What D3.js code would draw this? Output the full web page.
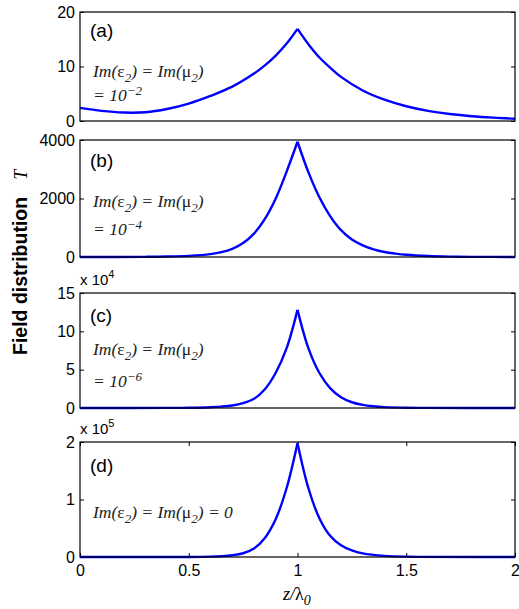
<!DOCTYPE html>
<html>
<head>
<meta charset="utf-8">
<script src="https://cdn.jsdelivr.net/npm/d3@7"></script>
<style>
  body { margin: 0; background: #fff; }
  svg { display: block; }
</style>
</head>
<body>
<div id="chart"></div>
<script>
// values (z / lambda_0 vs field T)
const zA = [0, 0.1, 0.2, 0.3, 0.4, 0.5, 0.6, 0.7, 0.8, 0.85, 0.9, 0.95, 1.0, 1.05, 1.1, 1.15, 1.2, 1.3, 1.4, 1.5, 1.6, 1.7, 1.8, 1.9, 2.0];
const valA = [2.4, 1.85, 1.55, 1.6, 2.2, 3.2, 4.6, 6.3, 8.7, 10.2, 12.0, 14.2, 16.9, 14.1, 11.7, 9.8, 8.1, 5.6, 3.9, 2.7, 1.85, 1.28, 0.88, 0.61, 0.42];

const zB = [0, 0.3, 0.4, 0.5, 0.6, 0.65, 0.7, 0.75, 0.8, 0.85, 0.9, 0.95, 1.0, 1.05, 1.1, 1.15, 1.2, 1.25, 1.3, 1.35, 1.4, 1.45, 1.5, 1.6, 1.7, 1.8, 2.0];
const valB = [0.5, 6, 15, 40, 100, 165, 280, 480, 800, 1300, 2000, 2920, 3940, 2900, 2050, 1400, 920, 600, 400, 260, 170, 115, 75, 33, 14, 6, 1];

const zC = [0, 0.4, 0.5, 0.6, 0.65, 0.7, 0.75, 0.8, 0.85, 0.9, 0.95, 1.0, 1.05, 1.1, 1.15, 1.2, 1.25, 1.3, 1.35, 1.4, 1.5, 1.6, 2.0];
const valC = [0, 0.01, 0.03, 0.1, 0.18, 0.33, 0.64, 1.2, 2.45, 4.6, 7.8, 12.8, 7.8, 4.6, 2.6, 1.4, 0.75, 0.4, 0.22, 0.12, 0.035, 0.01, 0];

const zD = [0, 0.5, 0.6, 0.65, 0.7, 0.75, 0.8, 0.85, 0.9, 0.95, 1.0, 1.05, 1.1, 1.15, 1.2, 1.25, 1.3, 1.4, 1.5, 2.0];
const valD = [0, 0.001, 0.006, 0.014, 0.03, 0.065, 0.147, 0.33, 0.66, 1.2, 1.98, 1.2, 0.68, 0.37, 0.205, 0.115, 0.063, 0.02, 0.006, 0];

const xTicks = [0, 0.5, 1, 1.5, 2];
const yTicksA = [0, 10, 20];
const yTicksB = [0, 2000, 4000];
const yTicksC = [0, 5, 10, 15];
const yTicksD = [0, 1, 2];

const panelLabels = ["(a)", "(b)", "(c)", "(d)"];
const lossExp = ["\u22122", "\u22124", "\u22126", null];
const scaleExp = [null, null, "4", "5"];
const PEAK_Z = 1.0;

const W = 519, H = 609;
const LEFT = 80, RIGHT = 515;
const LINE_COLOR = "#0000ff";
const SANS = "'Liberation Sans', Arial, sans-serif";
const SERIF = "'Liberation Serif', 'Times New Roman', serif";

const panels = [
  {top: 12, bottom: 121, z: zA, v: valA, ymax: 20, ticks: yTicksA, lab: 25, im: 65, eq: 24},
  {top: 140, bottom: 257, z: zB, v: valB, ymax: 4000, ticks: yTicksB, lab: 27, im: 67, eq: 28},
  {top: 293, bottom: 408, z: zC, v: valC, ymax: 15, ticks: yTicksC, lab: 29, im: 62, eq: 32},
  {top: 442, bottom: 557, z: zD, v: valD, ymax: 2, ticks: yTicksD, lab: 30, im: 76, eq: 0}
];

const svg = d3.select("#chart").append("svg")
  .attr("width", W).attr("height", H);

const x = d3.scaleLinear().domain([0, 2]).range([LEFT, RIGHT]);

function styleLabels(sel) {
  sel.selectAll("text")
    .style("font-family", SANS)
    .style("font-size", "16px")
    .attr("fill", "#000");
}

panels.forEach(function(p, i) {
  let y = d3.scaleLinear().domain([0, p.ymax]).range([p.bottom, p.top]);
  let g = svg.append("g");

  // left axis with labels, right side ticks only
  g.append("g")
    .attr("transform", `translate(${LEFT},0)`)
    .call(d3.axisLeft(y).tickValues(p.ticks).tickSize(-4).tickPadding(5).tickFormat(d3.format("d")))
    .call(a => a.select(".domain").remove())
    .call(styleLabels);
  g.append("g")
    .attr("transform", `translate(${RIGHT},0)`)
    .call(d3.axisRight(y).tickValues(p.ticks).tickSize(-4).tickFormat(""))
    .call(a => a.select(".domain").remove());

  if (i == 3) {
    g.append("g")
      .attr("transform", `translate(0,${p.bottom})`)
      .call(d3.axisBottom(x).tickValues(xTicks).tickSize(-4).tickPadding(8).tickFormat(d3.format("")))
      .call(a => a.select(".domain").remove())
      .call(styleLabels);
    g.append("g")
      .attr("transform", `translate(0,${p.top})`)
      .call(d3.axisTop(x).tickValues(xTicks).tickSize(-4).tickFormat(""))
      .call(a => a.select(".domain").remove());
  }

  // curve, drawn as two pieces so the cusp at z = 1 stays sharp
  let pts = d3.zip(p.z, p.v);
  let line = d3.line()
    .x(function(d) { return x(d[0]); })
    .y(function(d) { return y(d[1]); })
    .curve(d3.curveCatmullRom.alpha(0.5));
  let halves = [pts.filter(d => d[0] <= PEAK_Z), pts.filter(d => d[0] >= PEAK_Z)];
  g.selectAll("path.curve").data(halves).enter()
    .append("path")
    .attr("class", "curve")
    .attr("d", line)
    .attr("fill", "none")
    .attr("stroke", LINE_COLOR)
    .attr("stroke-width", 2.4);

  // box
  g.append("rect")
    .attr("x", LEFT).attr("y", p.top)
    .attr("width", RIGHT - LEFT).attr("height", p.bottom - p.top)
    .attr("fill", "none").attr("stroke", "#000").attr("stroke-width", 1.2);

  // panel label
  g.append("text")
    .attr("x", LEFT + 10).attr("y", p.top + p.lab)
    .style("font-family", SANS)
    .style("font-size", "19px")
    .text(panelLabels[i]);

  // Im(eps2) = Im(mu2) annotation
  let imY = p.top + p.im;
  let t = g.append("text")
    .attr("x", LEFT + 13).attr("y", imY)
    .style("font-family", SERIF).style("font-style", "italic")
    .style("font-size", "17.5px").attr("fill", "#222");
  t.append("tspan").text("Im(");
  t.append("tspan").style("font-style", "normal").text("\u03b5");
  t.append("tspan").attr("dy", 5).style("font-size", "13px").text("2");
  t.append("tspan").attr("dy", -5).text(") = Im(");
  t.append("tspan").style("font-style", "normal").text("\u03bc");
  t.append("tspan").attr("dy", 5).style("font-size", "13px").text("2");
  t.append("tspan").attr("dy", -5).text(i == 3 ? ") = 0" : ")");

  if (lossExp[i]) {
    let t2 = g.append("text")
      .attr("x", LEFT + 13).attr("y", imY + p.eq)
      .style("font-family", SERIF).style("font-style", "italic")
      .style("font-size", "17.5px").attr("fill", "#222");
    t2.append("tspan").text("= 10");
    t2.append("tspan").attr("dy", -6).style("font-size", "13px").text(lossExp[i]);
  }

  // x 10^n multiplier
  if (scaleExp[i]) {
    let t3 = g.append("text")
      .attr("x", LEFT).attr("y", p.top - 8)
      .style("font-family", SANS)
      .style("font-size", "15px");
    t3.append("tspan").text("x 10");
    t3.append("tspan").attr("dy", -7).style("font-size", "11px").text(scaleExp[i]);
  }
});

// axis titles
let yl = svg.append("text")
  .attr("transform", "translate(27, 355) rotate(-90)")
  .style("text-anchor", "start");
yl.append("tspan")
  .style("font-family", SANS)
  .style("font-weight", "bold").style("font-size", "19.5px")
  .text("Field distribution");
yl.append("tspan")
  .attr("dx", 17)
  .style("font-family", SERIF)
  .style("font-style", "italic").style("font-size", "18px")
  .text("T");

let xl = svg.append("text")
  .attr("x", 283).attr("y", 600)
  .style("font-family", SERIF)
  .style("font-style", "italic").style("font-size", "18px");
xl.append("tspan").text("z/");
xl.append("tspan").style("font-style", "normal").text("\u03bb");
xl.append("tspan").attr("dy", 5).style("font-size", "14px").text("0");
</script>
</body>
</html>
